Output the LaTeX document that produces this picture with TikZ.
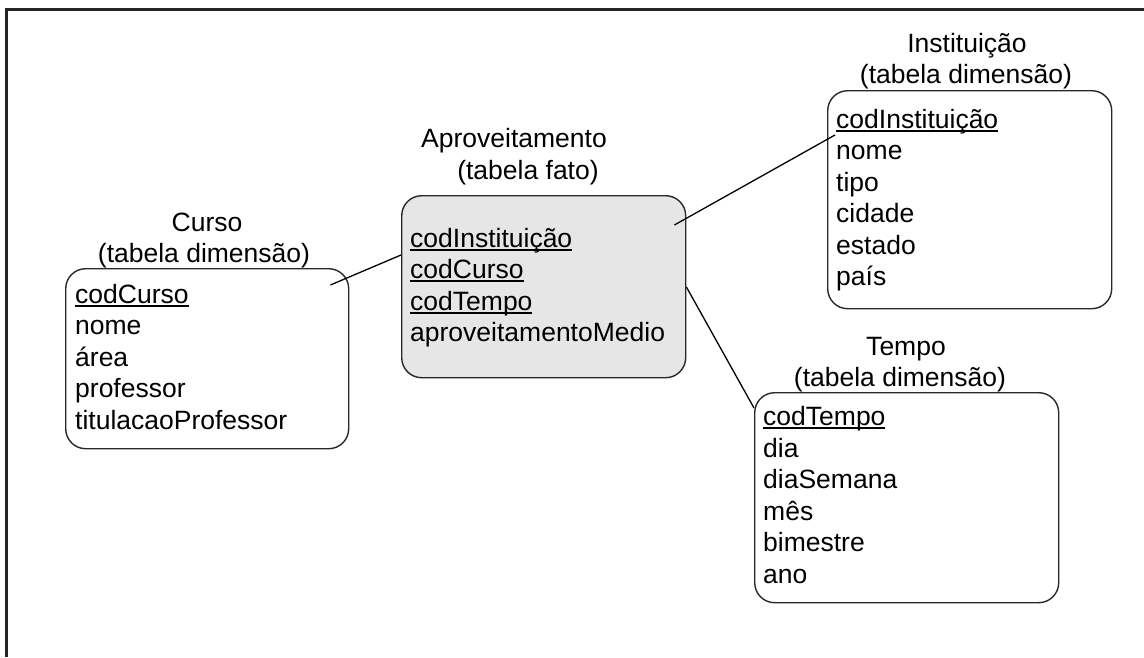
\documentclass[tikz,border=0pt]{standalone}
\usepackage{fontspec}
\setmainfont{Liberation Sans}
\usetikzlibrary{calc}

% underlined key attribute
\newsavebox\keybox
\newcommand\keyattr[1]{\sbox\keybox{#1}\rlap{\rule[-3.5pt]{\wd\keybox}{1.8pt}}\usebox\keybox}

\definecolor{factfill}{RGB}{230,230,230}
\definecolor{edge}{RGB}{40,40,40}

\tikzset{
  tablebox/.style={draw=edge, line width=1.4pt, rounded corners=20pt, rectangle,
    inner sep=0pt, anchor=north west},
  facttable/.style={tablebox, fill=factfill},
  attr/.style={anchor=base west, inner sep=0pt, font=\fontsize{26.5}{31.6}\selectfont},
  heading/.style={anchor=base, inner sep=0pt, font=\fontsize{26.5}{31.6}\selectfont},
  link/.style={draw=black, line width=1.3pt},
  frameline/.style={draw=black!85, line width=2.2pt}
}

\begin{document}
\begin{tikzpicture}[x=1pt, y=-1pt]
\useasboundingbox (0,0) rectangle (1144,657);

% outer frame (left and top edges)
\draw[frameline] (6.5,657) -- (6.5,9.5) -- (1144,9.5);

% table boxes
\node[tablebox, minimum width=283pt, minimum height=180pt] (curso) at (65,268) {};
\node[facttable, minimum width=284pt, minimum height=182pt] (apr) at (401,195) {};
\node[tablebox, minimum width=284pt, minimum height=218pt] (inst) at (827,90) {};
\node[tablebox, minimum width=304pt, minimum height=210pt] (tempo) at (754,392) {};

% headings
\node[heading] (cursoT1) at (207,231) {Curso};
\node[heading] (cursoT2) at (204,262.5) {(tabela dimensão)};
\node[heading] (aprT1) at (514,147.5) {Aproveitamento};
\node[heading] (aprT2) at (528,179) {(tabela fato)};
\node[heading] (instT1) at (967,52) {Instituição};
\node[heading] (instT2) at (966,83.5) {(tabela dimensão)};
\node[heading] (tempoT1) at (906,355) {Tempo};
\node[heading] (tempoT2) at (900,386.5) {(tabela dimensão)};

% attributes
\foreach \t [count=\i from 0] in {\keyattr{codCurso}, nome, área, professor, titulacaoProfessor}
  \node[attr] (curso-\i) at (75,303+31.5*\i) {\t};
\foreach \t [count=\i from 0] in {\keyattr{codInstituição}, \keyattr{codCurso}, \keyattr{codTempo}, aproveitamentoMedio}
  \node[attr] (apr-\i) at (410,247+31.5*\i) {\t};
\foreach \t [count=\i from 0] in {\keyattr{codInstituição}, nome, tipo, cidade, estado, país}
  \node[attr] (inst-\i) at (836,128+31.5*\i) {\t};
\foreach \t [count=\i from 0] in {\keyattr{codTempo}, dia, diaSemana, mês, bimestre, ano}
  \node[attr] (tempo-\i) at (763,425.5+31.5*\i) {\t};

% connector end points
\coordinate (cursoLink) at ($(curso.north east)+(-19,17)$);
\coordinate (aprLinkC) at ($(apr.north west)+(0,60)$);
\coordinate (aprLinkI) at ($(apr.north east)+(-12,30)$);
\coordinate (instLink) at ($(inst.north west)+(8,45)$);
\coordinate (aprLinkT) at ($(apr.north east)+(0,92)$);
\coordinate (tempoLink) at ($(tempo.north west)+(0,16)$);

% connectors
\draw[link] (cursoLink) -- (aprLinkC);
\draw[link] (aprLinkI) -- (instLink);
\draw[link] (aprLinkT) -- (tempoLink);
\end{tikzpicture}
\end{document}
